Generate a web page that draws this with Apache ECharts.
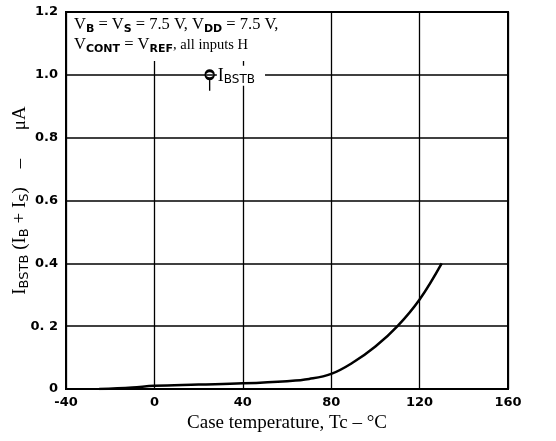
<!DOCTYPE html>
<html><head><meta charset="utf-8">
<script src="https://cdn.jsdelivr.net/npm/echarts@6/dist/echarts.min.js"></script>
<style>html,body{margin:0;padding:0;background:#fff}#c{width:556px;height:441px}</style>
</head><body><div id="c"></div>
<script>
const temps = [-25, -10, 0, 20, 40, 60, 70, 80, 90, 100, 110, 120, 130];
const current = [0.0, 0.005, 0.01, 0.014, 0.018, 0.025, 0.032, 0.048, 0.085, 0.135, 0.2, 0.285, 0.4];
const xTicks = ['-40', '0', '40', '80', '120', '160'];
const yTicks = ['0', '0. 2', '0.4', '0.6', '0.8', '1.0', '1.2'];
const pinPoint = [25, 1.0];

const chart = echarts.init(document.getElementById('c'));
const serif = '"Liberation Serif", "DejaVu Serif", serif';
const sans = '"DejaVu Sans", sans-serif';
chart.setOption({
  animation: false,
  backgroundColor: '#fff',
  grid: { left: 66, right: 48, top: 12, bottom: 52, show: true, borderColor: '#000', borderWidth: 2,
          containLabel: false, outerBoundsMode: 'none' },
  xAxis: {
    type: 'value', min: -40, max: 160, interval: 40,
    axisLine: { show: true, onZero: false, lineStyle: { color: '#000', width: 2 } },
    axisTick: { show: false },
    splitLine: { show: true, lineStyle: { color: '#000', width: 1.3 } },
    axisLabel: { color: '#000', fontFamily: sans, fontWeight: 'bold', fontSize: 13, margin: 7,
      formatter: v => xTicks[Math.round((v + 40) / 40)] },
    name: 'Case temperature, Tc \u2013 \u00B0C', nameLocation: 'middle', nameGap: 24,
    nameTextStyle: { color: '#000', fontFamily: serif, fontSize: 19 }
  },
  yAxis: {
    type: 'value', min: 0, max: 1.2, interval: 0.2,
    axisLine: { show: true, onZero: false, lineStyle: { color: '#000', width: 2 } },
    axisTick: { show: false },
    splitLine: { show: true, lineStyle: { color: '#000', width: 1.6 } },
    axisLabel: { color: '#000', fontFamily: sans, fontWeight: 'bold', fontSize: 13, margin: 8,
      formatter: v => yTicks[Math.round(v / 0.2)] },
    name: '{n|I}{s|BSTB}{n| (I}{s|B}{n| + I}{s|S}{n|)    \u2013      \u03BCA}',
    nameLocation: 'middle', nameGap: 35, nameRotate: 90, nameMoveOverlap: false,
    nameTextStyle: { color: '#000', fontFamily: serif, fontSize: 19,
      rich: { n: { fontFamily: serif, fontSize: 19, color: '#000' },
              s: { fontFamily: sans, fontSize: 13, color: '#000', padding: [9, 0, 0, 0] } } }
  },
  series: [{
    type: 'line', data: temps.map((t, i) => [t, current[i]]), smooth: 0.4, symbol: 'none',
    lineStyle: { color: '#000', width: 2.5 },
    markPoint: {
      silent: true,
      data: [{
        coord: pinPoint, symbol: 'path://M0,4 A4,4 0 1,1 8,4 A4,4 0 1,1 0,4 Z M4,8 L4,20', symbolSize: [9, 20],
        symbolOffset: [0, 6],
        itemStyle: { color: 'none', borderColor: '#000', borderWidth: 2 },
        label: { show: true, position: 'right', distance: 1, offset: [0, -5],
          formatter: '{n|I}{s|BSTB}', backgroundColor: '#fff', padding: [0, 10, 0, 1],
          rich: { n: { fontFamily: serif, fontSize: 18, color: '#000' },
                  s: { fontFamily: sans, fontSize: 12, color: '#000', padding: [8, 0, 0, 0] } } }
      }]
    }
  }],
  graphic: [{
    type: 'text', left: 70, top: 13, z: 100,
    style: {
      text: '{n|V}{s|B}{n| = V}{s|S}{n| = 7.5 V, V}{s|DD}{n| = 7.5 V,}\n{n|V}{s|CONT}{n| = V}{s|REF}{t|, all inputs H}',
      backgroundColor: '#fff', padding: [2, 4, 6, 4],
      rich: {
        n: { fontFamily: serif, fontSize: 16.5, color: '#000', lineHeight: 20 },
        t: { fontFamily: serif, fontSize: 14.5, color: '#000', lineHeight: 20 },
        s: { fontFamily: sans, fontSize: 11, fontWeight: 'bold', color: '#000', lineHeight: 20, padding: [9, 0, 0, 0] }
      }
    }
  }]
});
</script></body></html>
